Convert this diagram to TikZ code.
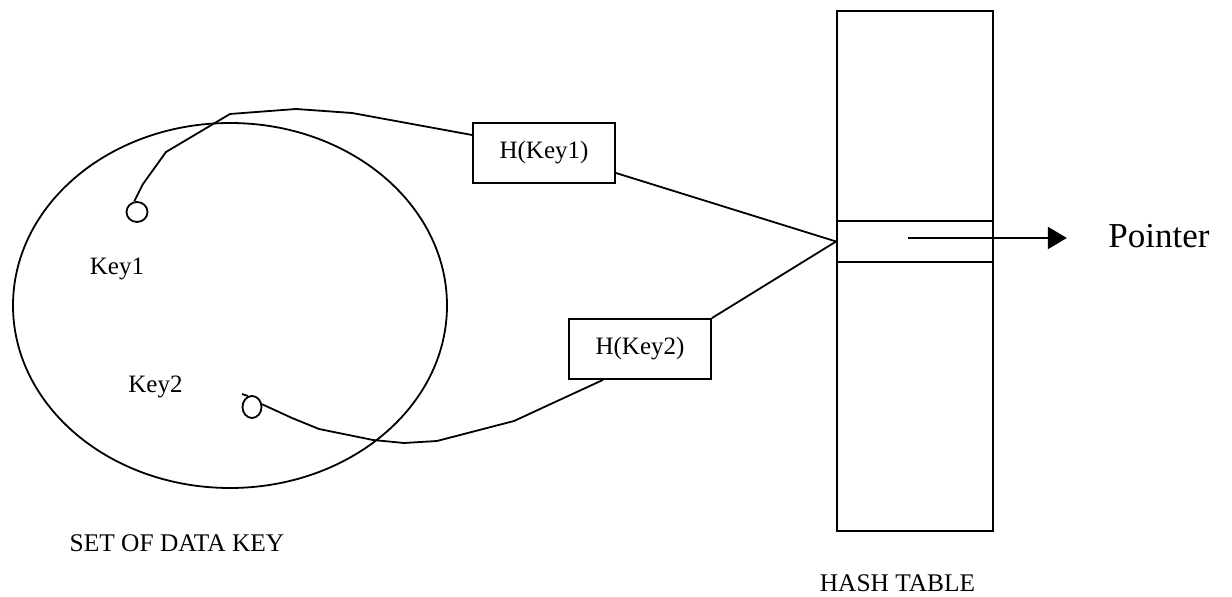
\documentclass[tikz,border=0pt]{standalone}
\usepackage{fontspec}
\setmainfont{Liberation Serif}
\usetikzlibrary{shapes.geometric, arrows.meta}

\tikzset{
    hashbox/.style={draw, line width=0.9pt, minimum width=71pt, minimum height=30pt, inner sep=0pt, font=\fontsize{12.5}{15}\selectfont},
    keydot/.style={draw, ellipse, line width=0.9pt, inner sep=0pt},
    label/.style={font=\fontsize{12.7}{15}\selectfont}
}

\begin{document}
\begin{tikzpicture}[x=0.5pt, y=-0.5pt, line width=0.9pt]
        \useasboundingbox (0,0) rectangle (1232,597);

        \node[draw, ellipse, line width=0.9pt, inner sep=0pt, minimum width=217pt, minimum height=182.5pt] (set) at (230,305.5) {};
        \node[keydot, minimum width=10.5pt, minimum height=10pt] (k1) at (137,212) {};
        \node[keydot, minimum width=9.5pt, minimum height=11pt] (k2) at (252,407) {};
        \node[font=\fontsize{12.5}{15}\selectfont] (key1) at (117,269) {Key1};
        \node[font=\fontsize{12.5}{15}\selectfont] (key2) at (155.5,387) {Key2};

        \node[hashbox] (h1) at (544,153) {H(Key1)};
        \node[hashbox] (h2) at (640,349) {H(Key2)};

        \node[draw, minimum width=78pt, minimum height=260pt, inner sep=0pt] (table) at (915,271) {};
        \node[draw, minimum width=78pt, minimum height=20.5pt, inner sep=0pt] (slot) at (915,241.5) {};

        \node[font=\fontsize{17.5}{20}\selectfont] (ptr) at (1159,236) {Pointer};
        \node[label] (setlbl) at (177,543) {SET OF DATA KEY};
        \node[label] (tbllbl) at (897.5,583) {HASH TABLE};

        % key to hash function
        \draw (k1.105) -- (143,184) -- (166,152) -- (230,114) -- (296,109) -- (352,113) -- ([yshift=9pt]h1.west);
        \draw (242,394) -- (k2.110);
        \draw (k2.15) -- (292,418) -- (319,429) -- (373,440) -- (404,443) -- (437,441) -- (514,421) -- ([xshift=-18.5pt]h2.south);

        % hash function to table
        \draw ([yshift=-10pt]h1.east) -- (slot.west);
        \draw (h2.north east) -- (slot.west);
        \draw[line width=1pt, -{Triangle[length=9.5pt, width=11pt]}] ([xshift=-3.5pt, yshift=1.75pt]slot.center) -- ([xshift=-17pt, yshift=1.75pt]slot.center -| ptr.west);
    \end{tikzpicture}
\end{document}
